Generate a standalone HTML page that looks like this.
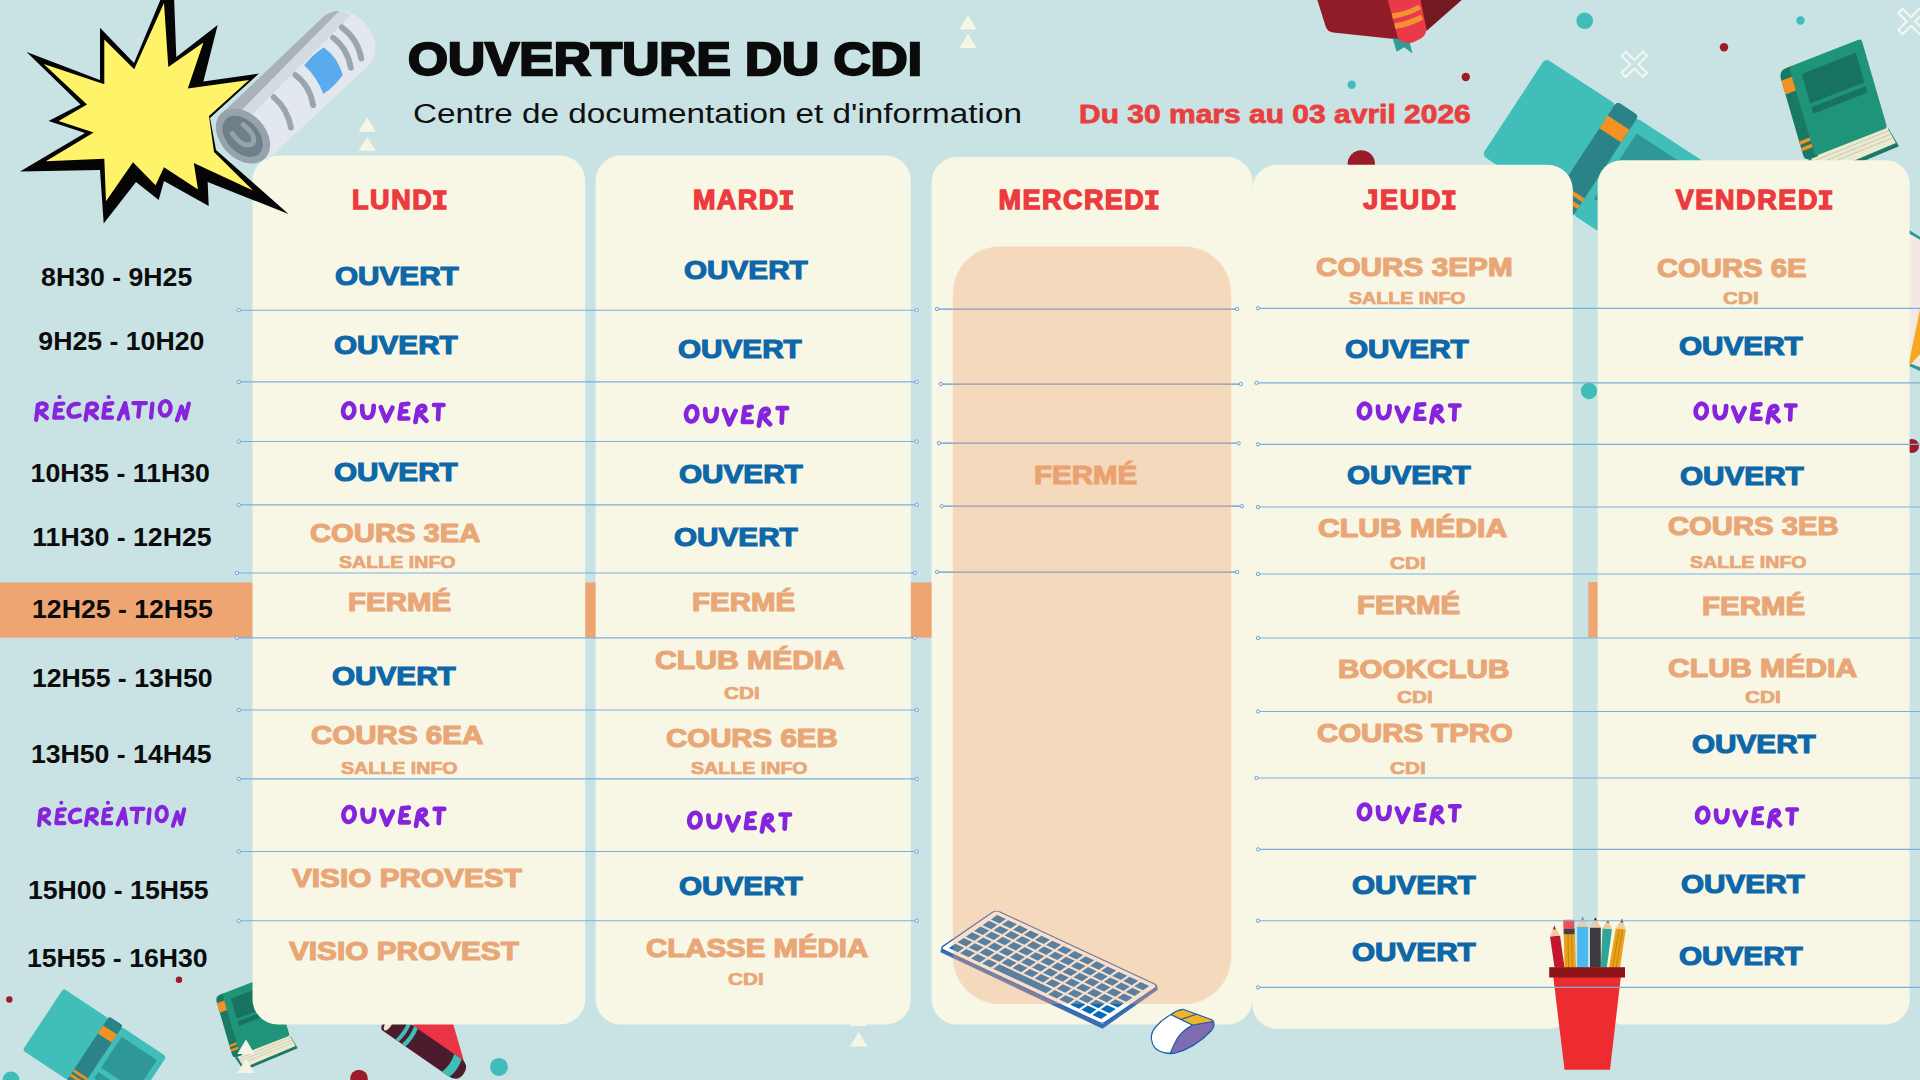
<!DOCTYPE html>
<html lang="fr"><head><meta charset="utf-8"><title>Ouverture du CDI</title>
<style>
html,body{margin:0;padding:0}
body{width:1920px;height:1080px;overflow:hidden;background:#c9e3e5;position:relative;font-family:"Liberation Sans",sans-serif}
.L{position:absolute;left:0;top:0;display:block}
.im{font-family:"Liberation Mono",monospace;margin:0 -0.07em 0 -0.06em}
.t{position:absolute;white-space:nowrap;line-height:1;transform-origin:0 0;font-family:"Liberation Sans",sans-serif}
.title{font-weight:700;color:#0b0b0b;-webkit-text-stroke:0.05em #0b0b0b;}
.sub{font-weight:400;color:#101010;}
.date{font-weight:700;color:#e9403f;-webkit-text-stroke:0.03em #e9403f;}
.time{font-weight:700;color:#0c0c0c;}
.hdr{font-weight:700;color:#ec3a3e;-webkit-text-stroke:0.05em #ec3a3e;}
.blue{font-weight:700;color:#0d67a8;-webkit-text-stroke:0.045em #0d67a8;}
.org{font-weight:700;color:#e9a676;-webkit-text-stroke:0.045em #e9a676;}
.orgs{font-weight:700;color:#e9a676;-webkit-text-stroke:0.04em #e9a676;}
.orgm{font-weight:700;color:#e6a06c;-webkit-text-stroke:0.045em #e6a06c;}
</style></head><body>
<svg class="L" width="1920" height="1080" viewBox="0 0 1920 1080">
<g>
<path d="M1316.7,-2 L1325.5,26 Q1327,31.5 1333,32.6 L1399,39.6 L1389,-2 Z" fill="#8f1c26"/>
<path d="M1419,-2 L1464,-2 L1426.5,31 Z" fill="#741821"/>
<path d="M1392.5,38 L1396.7,51.8 L1404.2,47.3 L1412.5,53.4 L1409.3,41 Z" fill="#2f9e9a"/>
<path d="M1387.3,-2 L1420.3,-2 L1426.2,28 Q1427,35 1420,39 L1414,42 Q1408,44.5 1402,41.5 L1398.2,39.4 Z" fill="#e93a49"/>
<path d="M1392.3,16 Q1406,14.5 1419.8,7" stroke="#f39232" stroke-width="5.4" fill="none"/>
<path d="M1394.8,26 Q1408,24.5 1422,17" stroke="#f39232" stroke-width="5.4" fill="none"/>
</g>
<g transform="translate(1626.2,111) rotate(33.2) scale(1.0)">
<rect x="-96.5" y="0" width="85" height="116" rx="5" fill="#41bdba"/>
<rect x="11.5" y="0" width="85" height="116" rx="5" fill="#41bdba"/>
<rect x="21" y="13" width="66" height="58" fill="#2f9796"/>
<rect x="21" y="79" width="66" height="12" fill="#2f9796"/>
<rect x="-13" y="-3" width="26" height="122" rx="4" fill="#2b8387"/>
<rect x="-13" y="14" width="26" height="15" fill="#f39223"/>
<rect x="-13" y="96" width="26" height="4.2" fill="#f39223"/>
<rect x="-13" y="104.5" width="26" height="4.2" fill="#f39223"/>
</g>
<g transform="matrix(0.9506,-0.3708,0.2856,0.9802,1778.6,71)">
<path d="M3,92 L88,92 L93,112 L10,114 Z" fill="#187a63"/>
<path d="M6,90 L87,90 L91,108 L11,110 Z" fill="#ebe9d2"/>
<path d="M8,95 L88,94 M9,99 L89,98 M10,103 L90,102" stroke="#c9cbb0" stroke-width="1" fill="none"/>
<path d="M0,8 Q0,0 8,0 L14,0 L14,92 L8,92 Q0,92 0,86 Z" fill="#187a63"/>
<rect x="11" y="0" width="76" height="91" rx="3" fill="#1f9478"/>
<rect x="0" y="10" width="11" height="14" fill="#f39223"/>
<rect x="0" y="72" width="11" height="3.4" fill="#f39223"/>
<rect x="0" y="78.5" width="11" height="3.4" fill="#f39223"/>
<rect x="21" y="11" width="57" height="30" fill="#177360"/>
<rect x="21" y="45" width="57" height="6.5" fill="#177360"/>
</g>
<g>
<path d="M1909,230 L1922,238 L1922,372 L1909,366 Z" fill="#2f9796"/>
<path d="M1909,233.5 L1922,241 L1922,368 L1909,363 Z" fill="#f3e9e2"/>
<path d="M1922,300 L1909,362 L1909,366 L1922,352 Z" fill="#f6a623"/>
</g>
<path transform="translate(1634.3,64.3) rotate(45)" d="M-3,-15 H3 V-3 H15 V3 H3 V15 H-3 V3 H-15 V-3 H-3 Z" fill="#cfe0dc" fill-opacity=".55" stroke="#f1faf3" stroke-width="1.9" stroke-linejoin="round"/>
<path transform="translate(1911,21.5) rotate(45)" d="M-3,-15 H3 V-3 H15 V3 H3 V15 H-3 V3 H-15 V-3 H-3 Z" fill="#cfe0dc" fill-opacity=".55" stroke="#f1faf3" stroke-width="1.9" stroke-linejoin="round"/>
<circle cx="1584.7" cy="20.8" r="8.3" fill="#3fbdb8"/>
<circle cx="1800.5" cy="20.5" r="4.2" fill="#3fbdb8"/>
<circle cx="1351.7" cy="84.7" r="4.2" fill="#3fbdb8"/>
<circle cx="1465.8" cy="77" r="4.2" fill="#9c1b28"/>
<circle cx="1724" cy="47.3" r="4.2" fill="#9c1b28"/>
<circle cx="1361.3" cy="164" r="13.7" fill="#9c1b28"/>
<circle cx="1589" cy="391" r="8.2" fill="#3fbdb8"/>
<circle cx="1912" cy="446" r="7" fill="#9c1b28"/>
<polygon points="367.2,117.2 358.6,131.8 375.8,131.8" fill="#f7f6e6"/>
<polygon points="367.2,137.2 358.6,150.8 375.8,150.8" fill="#f7f6e6"/>
<polygon points="968.0,15.0 959.4,29.6 976.6,29.6" fill="#f7f6e6"/>
<polygon points="968.0,33.5 959.4,48.1 976.6,48.1" fill="#f7f6e6"/>
<polygon points="858.7,1011.5 850.1,1026.1 867.4,1026.1" fill="#f7f6e6"/>
<polygon points="858.7,1031.9 850.1,1046.5 867.4,1046.5" fill="#f7f6e6"/>
<g transform="translate(115,1022.5) rotate(33.5) scale(0.64)">
<rect x="-96.5" y="0" width="85" height="116" rx="5" fill="#41bdba"/>
<rect x="11.5" y="0" width="85" height="116" rx="5" fill="#41bdba"/>
<rect x="21" y="13" width="66" height="58" fill="#2f9796"/>
<rect x="21" y="79" width="66" height="12" fill="#2f9796"/>
<rect x="-13" y="-3" width="26" height="122" rx="4" fill="#2b8387"/>
<rect x="-13" y="14" width="26" height="15" fill="#f39223"/>
<rect x="-13" y="96" width="26" height="4.2" fill="#f39223"/>
<rect x="-13" y="104.5" width="26" height="4.2" fill="#f39223"/>
</g>
<g transform="matrix(0.6524,-0.2544,0.1960,0.6727,215.1,996.6)">
<path d="M3,92 L88,92 L93,112 L10,114 Z" fill="#187a63"/>
<path d="M6,90 L87,90 L91,108 L11,110 Z" fill="#ebe9d2"/>
<path d="M8,95 L88,94 M9,99 L89,98 M10,103 L90,102" stroke="#c9cbb0" stroke-width="1" fill="none"/>
<path d="M0,8 Q0,0 8,0 L14,0 L14,92 L8,92 Q0,92 0,86 Z" fill="#187a63"/>
<rect x="11" y="0" width="76" height="91" rx="3" fill="#1f9478"/>
<rect x="0" y="10" width="11" height="14" fill="#f39223"/>
<rect x="0" y="72" width="11" height="3.4" fill="#f39223"/>
<rect x="0" y="78.5" width="11" height="3.4" fill="#f39223"/>
<rect x="21" y="11" width="57" height="30" fill="#177360"/>
<rect x="21" y="45" width="57" height="6.5" fill="#177360"/>
</g>
<g>
<path d="M410,1022 L452.6,1022 L464.5,1063 L440,1052 Z" fill="#ea3344"/>
<g transform="translate(403.3,1031.9) rotate(34.7)">
<path d="M-18,-10.75 L62,-10.75 Q73.5,-10.75 73.5,0 Q73.5,10.75 62,10.75 L-18,10.75 Q-22,10.75 -22,0 Q-22,-10.75 -18,-10.75Z" fill="#4b1c2d"/>
<path d="M-2.2,-10.75 Q0.3,0 -2.2,10.75 L1.8,10.75 Q4.3,0 1.8,-10.75 Z" fill="#3fbdb8"/>
<path d="M5.8,-10.75 Q8.3,0 5.8,10.75 L10.2,10.75 Q12.7,0 10.2,-10.75 Z" fill="#3fbdb8"/>
<path d="M54.5,-10.75 Q58,0 54.5,10.75 L63.5,10.75 Q67,0 63.5,-10.75 Z" fill="#3fbdb8"/>
<ellipse cx="-16.5" cy="2.5" rx="3" ry="6.8" fill="#efe6d6"/>
</g>
</g>
<circle cx="9.3" cy="999.5" r="3.2" fill="#9c1b28"/>
<circle cx="179" cy="979.8" r="3.2" fill="#9c1b28"/>
<circle cx="359" cy="1078.5" r="8.8" fill="#9c1b28"/>
<circle cx="499" cy="1066.9" r="9" fill="#3fbdb8"/>
<circle cx="11" cy="1080" r="8.5" fill="#3fbdb8"/>
<rect x="0" y="582.5" width="932" height="55.2" fill="#eea572"/><rect x="1588.3" y="582" width="10" height="55.5" fill="#eea572"/>
<rect x="252.5" y="155.6" width="332.7" height="868.8" rx="25" fill="#f8f6e5"/>
<rect x="595.6" y="155.6" width="315.2" height="868.8" rx="25" fill="#f8f6e5"/>
<rect x="931.6" y="157.1" width="321.0" height="867.3" rx="25" fill="#f8f6e5"/>
<rect x="1252.2" y="164.8" width="320.6" height="864.2" rx="25" fill="#f8f6e5"/>
<rect x="1597.6" y="160.2" width="312.0" height="864.2" rx="24" fill="#f8f6e5"/>
<polygon points="246.0,1039.5 237.3,1054.1 254.7,1054.1" fill="#f4f3e6"/>
<polygon points="246.0,1058.5 237.3,1073.1 254.7,1073.1" fill="#f4f3e6"/>
<polygon points="162,-4 174,-4 176.3,57 217.7,25 203.4,81.6 259,73.5 210,118 216,150 288.5,214 207.7,182 208.7,206 164,181 158.7,200 136,182 103.7,223.6 100,170 20,171.5 85,133 48.5,121 80.5,104.4 26.6,52 100,80 100,27.7 134,63" fill="#050505"/><polygon points="164,3 168.3,67 203.4,42.6 187.8,88.4 249,80 209,116 214,152 253,190.4 193.8,163 198,189.5 164,167.2 155.5,185.3 133,162.3 106,201.3 104.3,158.7 45.8,161.2 93.7,132.5 58.6,121 87,104.4 43.7,64 104.3,84.2 104.3,39.4 134.2,69.2" fill="#fff36a"/>
<g transform="translate(243,136) rotate(-43.6)">
<path d="M0,-31 L140,-31 Q166,-28 166,2 Q165,31 140,35.5 L0,34 Z" fill="#e3e8ef"/>
<path d="M0,-31 L140,-31 Q150,-30 156,-24 L0,-19 Z" fill="#a7b2ba"/>
<path d="M0,-19 L156,-24 Q160,-19 162,-13 L0,-9 Z" fill="#d3dae1"/>
<path d="M93,-9 Q107,-11 119.5,-8.5 Q123,8 114.5,24.5 Q100,27.5 87,25 Q94.5,8 93,-9 Z" fill="#5aaaee"/>
<path d="M49,-7 Q51,11 40.5,27" stroke="#9aa6ae" stroke-width="5.8" fill="none" stroke-linecap="round"/>
<path d="M80,-8 Q83,10 72,26" stroke="#9aa6ae" stroke-width="5.8" fill="none" stroke-linecap="round"/>
<path d="M133,-9 Q136,9 125,25" stroke="#9aa6ae" stroke-width="5.8" fill="none" stroke-linecap="round"/>
<path d="M146.5,-10.5 Q150,9 139,25.5" stroke="#9aa6ae" stroke-width="5.8" fill="none" stroke-linecap="round"/>
<ellipse cx="0" cy="0" rx="22.5" ry="31.5" fill="#97a3ac"/>
<ellipse cx="-0.5" cy="0" rx="16" ry="24" fill="#6f7f89"/>
<path d="M-6,-9 Q-9,10 2,12 Q10,10 8,-8" stroke="#97a3ac" stroke-width="5" fill="none" stroke-linecap="round"/>
</g>
</svg>
<div class="t orgm" style="left:1034.12px;top:463.11px;font-size:24.93px;transform:scaleX(1.1823)">FERMÉ</div>
<svg class="L" width="1920" height="1080" viewBox="0 0 1920 1080">
<defs>
<g id="ouv" fill="none" stroke="#8523dd" stroke-width="4.7" stroke-linecap="round" stroke-linejoin="round"><ellipse cx="18.3" cy="21" rx="5.6" ry="7.7" transform="rotate(8 18.3 21)"/><path d="M31.8,16.2 C31.6,24 32.8,28.6 37.4,28.4 C42.2,28.2 43.3,22 43.3,15.9"/><path d="M50.4,17.3 L55.7,31.5 L62,17.9"/><path d="M77.9,13.9 L71.1,14.6 L69.1,29.1 L77.9,29.1 M70.1,22 L75.8,21.7"/><path d="M87.3,19.6 L85,32.8 M87.3,19.6 C89,15 95,14.5 94.8,19 C94.6,22 90,23 88,23 L96.1,31.5"/><path d="M103.6,15.2 L113.1,15.2 M108.3,15.2 L107.7,29.8"/></g>
<g id="rec" fill="none" stroke="#8523dd" stroke-width="4.3" stroke-linecap="round" stroke-linejoin="round"><path d="M12.8,19.6 L11.1,35.1 M12.8,19.6 C16,17 22,17.5 21.5,22 C21,25.5 16,26.4 13.7,26.4 L21.9,33.3"/><path d="M38.3,18.2 L31,18.7 L29.2,32.8 L37.8,32.8 M30.5,25.5 L36,25.1"/><circle cx="34.5" cy="11.4" r="2.1" fill="#8523dd" stroke="none"/><path d="M53.8,18.7 C46,17.5 42,24 44,29 C46,33 51,32 54.7,30.5"/><path d="M62.9,19.6 L60.6,35.1 M62.9,19.6 C66,17 72.5,17.5 72,22.5 C71.5,25.8 66,26.4 63.8,26.4 L72,33.3"/><path d="M87.5,17.8 L80.2,18.7 L78.4,32.8 L87.1,32.8 M79.3,25.5 L85.2,25.1"/><circle cx="83.7" cy="11.4" r="2.1" fill="#8523dd" stroke="none"/><path d="M93.9,34.2 L100.3,17.8 L103,33.7 M96.6,27.3 L102.1,27.3"/><path d="M108.5,17.8 L121.2,17.8 M114.9,17.8 L113.5,31.9"/><path d="M127.6,18.2 L126.3,32.8"/><ellipse cx="140.4" cy="23.2" rx="5.4" ry="7.6" transform="rotate(5 140.4 23.2)"/><path d="M152.2,35.6 L156.8,21.4 L160.4,33.7 L164.1,18.2"/></g>
</defs>
<line x1="938.9" y1="309.0" x2="1235.3" y2="309.0" stroke="#6397cd" stroke-width="1.25"/><circle cx="937.1" cy="309.0" r="1.7" fill="#eef5f8" stroke="#6a9fd4" stroke-width="0.95"/><circle cx="1237.1" cy="309.0" r="1.7" fill="#eef5f8" stroke="#6a9fd4" stroke-width="0.95"/>
<line x1="942.6" y1="384.0" x2="1239.0" y2="384.0" stroke="#6397cd" stroke-width="1.25"/><circle cx="940.8" cy="384.0" r="1.7" fill="#eef5f8" stroke="#6a9fd4" stroke-width="0.95"/><circle cx="1240.8" cy="384.0" r="1.7" fill="#eef5f8" stroke="#6a9fd4" stroke-width="0.95"/>
<line x1="940.8" y1="443.2" x2="1236.7" y2="443.2" stroke="#6397cd" stroke-width="1.25"/><circle cx="939.0" cy="443.2" r="1.7" fill="#eef5f8" stroke="#6a9fd4" stroke-width="0.95"/><circle cx="1238.5" cy="443.2" r="1.7" fill="#eef5f8" stroke="#6a9fd4" stroke-width="0.95"/>
<line x1="943.6" y1="506.2" x2="1240.0" y2="506.2" stroke="#6397cd" stroke-width="1.25"/><circle cx="941.8" cy="506.2" r="1.7" fill="#eef5f8" stroke="#6a9fd4" stroke-width="0.95"/><circle cx="1241.8" cy="506.2" r="1.7" fill="#eef5f8" stroke="#6a9fd4" stroke-width="0.95"/>
<line x1="938.9" y1="572.0" x2="1235.3" y2="572.0" stroke="#6397cd" stroke-width="1.25"/><circle cx="937.1" cy="572.0" r="1.7" fill="#eef5f8" stroke="#6a9fd4" stroke-width="0.95"/><circle cx="1237.1" cy="572.0" r="1.7" fill="#eef5f8" stroke="#6a9fd4" stroke-width="0.95"/>
<g><path d="M941,948.8 L1102.498,1024.096 L1157.298,986.298 L1157.798,989.798 L1102.498,1028.696 L940.5,952.3 Z" fill="#3a6db4"/>
<g transform="matrix(11.607,5.414,9.3,-6.383,940,948.3)">
<rect x="0" y="0" width="14" height="6" rx="0.35" fill="#ffffff" stroke="#2a62a8" stroke-width="0.12"/>
<g fill="#066bb6"><rect x="0.450" y="0.410" width="0.750" height="0.680"/><rect x="1.400" y="0.410" width="0.750" height="0.680"/><rect x="2.350" y="0.410" width="0.750" height="0.680"/><rect x="3.300" y="0.410" width="0.750" height="0.680"/><rect x="4.250" y="0.410" width="4.550" height="0.680"/><rect x="9.000" y="0.410" width="0.750" height="0.680"/><rect x="9.950" y="0.410" width="0.750" height="0.680"/><rect x="10.900" y="0.410" width="0.750" height="0.680"/><rect x="11.850" y="0.410" width="0.750" height="0.680"/><rect x="12.800" y="0.410" width="0.750" height="0.680"/><rect x="0.450" y="1.310" width="0.750" height="0.680"/><rect x="1.400" y="1.310" width="0.750" height="0.680"/><rect x="2.350" y="1.310" width="0.750" height="0.680"/><rect x="3.300" y="1.310" width="0.750" height="0.680"/><rect x="4.250" y="1.310" width="0.750" height="0.680"/><rect x="5.200" y="1.310" width="0.750" height="0.680"/><rect x="6.150" y="1.310" width="0.750" height="0.680"/><rect x="7.100" y="1.310" width="0.750" height="0.680"/><rect x="8.050" y="1.310" width="0.750" height="0.680"/><rect x="9.000" y="1.310" width="0.750" height="0.680"/><rect x="9.950" y="1.310" width="0.750" height="0.680"/><rect x="10.900" y="1.310" width="0.750" height="0.680"/><rect x="11.850" y="1.310" width="0.750" height="0.680"/><rect x="12.800" y="1.310" width="0.750" height="0.680"/><rect x="0.450" y="2.210" width="0.750" height="0.680"/><rect x="1.400" y="2.210" width="0.750" height="0.680"/><rect x="2.350" y="2.210" width="0.750" height="0.680"/><rect x="3.300" y="2.210" width="0.750" height="0.680"/><rect x="4.250" y="2.210" width="0.750" height="0.680"/><rect x="5.200" y="2.210" width="0.750" height="0.680"/><rect x="6.150" y="2.210" width="0.750" height="0.680"/><rect x="7.100" y="2.210" width="0.750" height="0.680"/><rect x="8.050" y="2.210" width="0.750" height="0.680"/><rect x="9.000" y="2.210" width="0.750" height="0.680"/><rect x="9.950" y="2.210" width="0.750" height="0.680"/><rect x="10.900" y="2.210" width="0.750" height="0.680"/><rect x="11.850" y="2.210" width="0.750" height="0.680"/><rect x="12.800" y="2.210" width="0.750" height="0.680"/><rect x="0.450" y="3.110" width="0.750" height="0.680"/><rect x="1.400" y="3.110" width="0.750" height="0.680"/><rect x="2.350" y="3.110" width="0.750" height="0.680"/><rect x="3.300" y="3.110" width="0.750" height="0.680"/><rect x="4.250" y="3.110" width="0.750" height="0.680"/><rect x="5.200" y="3.110" width="0.750" height="0.680"/><rect x="6.150" y="3.110" width="0.750" height="0.680"/><rect x="7.100" y="3.110" width="0.750" height="0.680"/><rect x="8.050" y="3.110" width="0.750" height="0.680"/><rect x="9.000" y="3.110" width="0.750" height="0.680"/><rect x="9.950" y="3.110" width="0.750" height="0.680"/><rect x="10.900" y="3.110" width="0.750" height="0.680"/><rect x="11.850" y="3.110" width="0.750" height="0.680"/><rect x="12.800" y="3.110" width="0.750" height="0.680"/><rect x="0.450" y="4.010" width="0.750" height="0.680"/><rect x="1.400" y="4.010" width="0.750" height="0.680"/><rect x="2.350" y="4.010" width="0.750" height="0.680"/><rect x="3.300" y="4.010" width="0.750" height="0.680"/><rect x="4.250" y="4.010" width="0.750" height="0.680"/><rect x="5.200" y="4.010" width="0.750" height="0.680"/><rect x="6.150" y="4.010" width="0.750" height="0.680"/><rect x="7.100" y="4.010" width="0.750" height="0.680"/><rect x="8.050" y="4.010" width="0.750" height="0.680"/><rect x="9.000" y="4.010" width="0.750" height="0.680"/><rect x="9.950" y="4.010" width="0.750" height="0.680"/><rect x="10.900" y="4.010" width="0.750" height="0.680"/><rect x="11.850" y="4.010" width="0.750" height="0.680"/><rect x="12.800" y="4.010" width="0.750" height="0.680"/><rect x="0.450" y="4.910" width="0.750" height="0.680"/><rect x="1.400" y="4.910" width="0.750" height="0.680"/><rect x="2.350" y="4.910" width="0.750" height="0.680"/><rect x="3.300" y="4.910" width="0.750" height="0.680"/><rect x="4.250" y="4.910" width="0.750" height="0.680"/><rect x="5.200" y="4.910" width="0.750" height="0.680"/><rect x="6.150" y="4.910" width="0.750" height="0.680"/><rect x="7.100" y="4.910" width="0.750" height="0.680"/><rect x="8.050" y="4.910" width="0.750" height="0.680"/><rect x="9.000" y="4.910" width="0.750" height="0.680"/><rect x="9.950" y="4.910" width="0.750" height="0.680"/><rect x="10.900" y="4.910" width="0.750" height="0.680"/><rect x="11.850" y="4.910" width="0.750" height="0.680"/><rect x="12.800" y="4.910" width="0.750" height="0.680"/></g>
</g></g>
<rect x="952.9" y="246.5" width="278.2" height="757.5" rx="47" fill="rgb(237,165,120)" fill-opacity=".36"/>
<g stroke="#1f5fa8" stroke-width="1.2" stroke-linejoin="round">
<path d="M1192.5,1025 L1213.5,1021.5 Q1215,1026 1211.5,1030.5 Q1195,1048 1174,1053.5 Q1165,1054.5 1158,1049 Z" fill="#7d6cb2"/>
<path d="M1151.5,1039.5 Q1150.5,1033 1156,1026.5 Q1162,1019.5 1171,1014.5 L1192.5,1025 Q1183,1030 1177.5,1038 Q1173,1046 1170.5,1052.8 Q1162,1054 1155,1048 Q1152,1044.5 1151.5,1039.5 Z" fill="#ffffff"/>
<path d="M1171,1014.5 Q1177,1010 1183,1009.3 L1211,1019.5 Q1213,1020.5 1213.5,1021.5 L1192.5,1025 Z" fill="#f0b52b"/>
<path d="M1181,1019.4 L1196.5,1014.2" fill="none"/>
</g>
<g>
<polygon points="1554.5,967.5 1564.5,967.5 1560,935.5 1550,936.5" fill="#c1192b"/>
<polygon points="1550,936.5 1560,935.5 1554.3,925.5" fill="#f2c9a0"/>
<polygon points="1553,929.5 1555.8,929.2 1554.3,925.5" fill="#a51424"/>
<polygon points="1564.5,967.5 1576,967.5 1574.7,934 1563.8,934" fill="#e9a21a"/>
<path d="M1568,934 L1568.6,967.5 M1571.6,934 L1572.4,967.5" stroke="#c98710" stroke-width="1.2"/>
<rect x="1563.6" y="928.3" width="11" height="5.9" fill="#4b3d3d"/>
<rect x="1563.3" y="919.8" width="11" height="8.6" rx="1.5" fill="#e9515c"/>
<rect x="1577.2" y="926.7" width="10.8" height="41" fill="#4db8ef"/>
<polygon points="1577.2,926.7 1588,926.7 1582.6,916.5" fill="#f2c9a0"/>
<polygon points="1581,919.8 1584.2,919.8 1582.6,916.5" fill="#3a9fe0"/>
<rect x="1590" y="927.5" width="10.8" height="40" fill="#3f3a41"/>
<polygon points="1590,927.5 1600.8,927.5 1595.4,917.3" fill="#f2c9a0"/>
<polygon points="1593.8,920.5 1597,920.5 1595.4,917.3" fill="#2e2a30"/>
<polygon points="1600.8,967.5 1606.8,967.5 1612,929.3 1602.5,928.3" fill="#2fa597"/>
<polygon points="1602.5,928.3 1612,929.3 1608,919.5" fill="#f2c9a0"/>
<polygon points="1606.4,922.8 1609.3,923 1608,919.5" fill="#4a7f86"/>
<polygon points="1609,967.5 1620,967.5 1625.8,929.5 1615.8,928.3" fill="#e9a21a"/>
<path d="M1612.7,967.5 L1619.2,928.8 M1616.2,967.5 L1622.5,929.2" stroke="#c98710" stroke-width="1.2"/>
<polygon points="1615.8,928.3 1625.8,929.5 1622,918.5" fill="#f2c9a0"/>
<polygon points="1620.5,922.3 1623.4,922.6 1622,918.5" fill="#4a4040"/>
<polygon points="1553.3,977 1620.8,977 1610,1069.7 1564.5,1069.7" fill="#ee2b2e"/>
<rect x="1549.2" y="967.2" width="75.8" height="10.3" fill="#8b1418"/>
</g>
<line x1="240.6" y1="310.2" x2="914.9" y2="310.2" stroke="#79afdf" stroke-width="1.15"/><circle cx="238.8" cy="310.2" r="1.7" fill="#eef5f8" stroke="#6a9fd4" stroke-width="0.95"/><circle cx="916.7" cy="310.2" r="1.7" fill="#eef5f8" stroke="#6a9fd4" stroke-width="0.95"/>
<line x1="240.6" y1="381.9" x2="914.9" y2="381.9" stroke="#79afdf" stroke-width="1.15"/><circle cx="238.8" cy="381.9" r="1.7" fill="#eef5f8" stroke="#6a9fd4" stroke-width="0.95"/><circle cx="916.7" cy="381.9" r="1.7" fill="#eef5f8" stroke="#6a9fd4" stroke-width="0.95"/>
<line x1="240.6" y1="441.5" x2="914.9" y2="441.5" stroke="#79afdf" stroke-width="1.15"/><circle cx="238.8" cy="441.5" r="1.7" fill="#eef5f8" stroke="#6a9fd4" stroke-width="0.95"/><circle cx="916.7" cy="441.5" r="1.7" fill="#eef5f8" stroke="#6a9fd4" stroke-width="0.95"/>
<line x1="240.6" y1="504.8" x2="914.9" y2="504.8" stroke="#79afdf" stroke-width="1.15"/><circle cx="238.8" cy="504.8" r="1.7" fill="#eef5f8" stroke="#6a9fd4" stroke-width="0.95"/><circle cx="916.7" cy="504.8" r="1.7" fill="#eef5f8" stroke="#6a9fd4" stroke-width="0.95"/>
<line x1="238.8" y1="573.0" x2="913.0" y2="573.0" stroke="#79afdf" stroke-width="1.15"/><circle cx="237.0" cy="573.0" r="1.7" fill="#eef5f8" stroke="#6a9fd4" stroke-width="0.95"/><circle cx="914.8" cy="573.0" r="1.7" fill="#eef5f8" stroke="#6a9fd4" stroke-width="0.95"/>
<line x1="238.8" y1="637.8" x2="913.0" y2="637.8" stroke="#79afdf" stroke-width="1.15"/><circle cx="237.0" cy="637.8" r="1.7" fill="#eef5f8" stroke="#6a9fd4" stroke-width="0.95"/><circle cx="914.8" cy="637.8" r="1.7" fill="#eef5f8" stroke="#6a9fd4" stroke-width="0.95"/>
<line x1="240.6" y1="710.0" x2="914.9" y2="710.0" stroke="#79afdf" stroke-width="1.15"/><circle cx="238.8" cy="710.0" r="1.7" fill="#eef5f8" stroke="#6a9fd4" stroke-width="0.95"/><circle cx="916.7" cy="710.0" r="1.7" fill="#eef5f8" stroke="#6a9fd4" stroke-width="0.95"/>
<line x1="240.6" y1="778.9" x2="914.9" y2="778.9" stroke="#79afdf" stroke-width="1.15"/><circle cx="238.8" cy="778.9" r="1.7" fill="#eef5f8" stroke="#6a9fd4" stroke-width="0.95"/><circle cx="916.7" cy="778.9" r="1.7" fill="#eef5f8" stroke="#6a9fd4" stroke-width="0.95"/>
<line x1="240.6" y1="851.5" x2="914.9" y2="851.5" stroke="#79afdf" stroke-width="1.15"/><circle cx="238.8" cy="851.5" r="1.7" fill="#eef5f8" stroke="#6a9fd4" stroke-width="0.95"/><circle cx="916.7" cy="851.5" r="1.7" fill="#eef5f8" stroke="#6a9fd4" stroke-width="0.95"/>
<line x1="240.6" y1="920.7" x2="914.9" y2="920.7" stroke="#79afdf" stroke-width="1.15"/><circle cx="238.8" cy="920.7" r="1.7" fill="#eef5f8" stroke="#6a9fd4" stroke-width="0.95"/><circle cx="916.7" cy="920.7" r="1.7" fill="#eef5f8" stroke="#6a9fd4" stroke-width="0.95"/>
<line x1="1259.8" y1="308.3" x2="1925.0" y2="308.3" stroke="#79afdf" stroke-width="1.15"/><circle cx="1258.0" cy="308.3" r="1.7" fill="#eef5f8" stroke="#6a9fd4" stroke-width="0.95"/>
<line x1="1258.4" y1="382.9" x2="1925.0" y2="382.9" stroke="#79afdf" stroke-width="1.15"/><circle cx="1256.6" cy="382.9" r="1.7" fill="#eef5f8" stroke="#6a9fd4" stroke-width="0.95"/>
<line x1="1259.8" y1="444.4" x2="1925.0" y2="444.4" stroke="#79afdf" stroke-width="1.15"/><circle cx="1258.0" cy="444.4" r="1.7" fill="#eef5f8" stroke="#6a9fd4" stroke-width="0.95"/>
<line x1="1259.8" y1="507.0" x2="1925.0" y2="507.0" stroke="#79afdf" stroke-width="1.15"/><circle cx="1258.0" cy="507.0" r="1.7" fill="#eef5f8" stroke="#6a9fd4" stroke-width="0.95"/>
<line x1="1259.8" y1="574.0" x2="1925.0" y2="574.0" stroke="#79afdf" stroke-width="1.15"/><circle cx="1258.0" cy="574.0" r="1.7" fill="#eef5f8" stroke="#6a9fd4" stroke-width="0.95"/>
<line x1="1259.8" y1="638.0" x2="1925.0" y2="638.0" stroke="#79afdf" stroke-width="1.15"/><circle cx="1258.0" cy="638.0" r="1.7" fill="#eef5f8" stroke="#6a9fd4" stroke-width="0.95"/>
<line x1="1259.8" y1="711.5" x2="1925.0" y2="711.5" stroke="#79afdf" stroke-width="1.15"/><circle cx="1258.0" cy="711.5" r="1.7" fill="#eef5f8" stroke="#6a9fd4" stroke-width="0.95"/>
<line x1="1258.4" y1="778.0" x2="1925.0" y2="778.0" stroke="#79afdf" stroke-width="1.15"/><circle cx="1256.6" cy="778.0" r="1.7" fill="#eef5f8" stroke="#6a9fd4" stroke-width="0.95"/>
<line x1="1259.8" y1="849.4" x2="1925.0" y2="849.4" stroke="#79afdf" stroke-width="1.15"/><circle cx="1258.0" cy="849.4" r="1.7" fill="#eef5f8" stroke="#6a9fd4" stroke-width="0.95"/>
<line x1="1259.8" y1="920.7" x2="1925.0" y2="920.7" stroke="#79afdf" stroke-width="1.15"/><circle cx="1258.0" cy="920.7" r="1.7" fill="#eef5f8" stroke="#6a9fd4" stroke-width="0.95"/>
<line x1="1259.8" y1="987.4" x2="1925.0" y2="987.4" stroke="#79afdf" stroke-width="1.15"/><circle cx="1258.0" cy="987.4" r="1.7" fill="#eef5f8" stroke="#6a9fd4" stroke-width="0.95"/>
<use href="#ouv" transform="matrix(1.0000,0,0,0.9667,330.40,390.37)"/>
<use href="#ouv" transform="matrix(1.0038,0,0,0.9708,330.66,794.12)"/>
<use href="#ouv" transform="matrix(1.0076,0,0,0.9917,673.22,393.09)"/>
<use href="#ouv" transform="matrix(1.0038,0,0,0.9708,676.56,799.72)"/>
<use href="#ouv" transform="matrix(1.0029,0,0,0.9625,1346.17,390.81)"/>
<use href="#ouv" transform="matrix(1.0029,0,0,0.9667,1346.17,791.57)"/>
<use href="#ouv" transform="matrix(0.9943,0,0,0.9625,1683.06,390.81)"/>
<use href="#ouv" transform="matrix(0.9943,0,0,0.9625,1684.46,794.91)"/>
<use href="#rec" transform="matrix(0.9975,0,0,0.9680,25.12,385.89)"/>
<use href="#rec" transform="matrix(0.9484,0,0,0.9502,28.56,791.96)"/>
</svg>
<div class="t title" style="left:408.37px;top:35.84px;font-size:46.85px;transform:scaleX(1.0971)">OUVERTURE DU CDI</div>
<div class="t sub" style="left:413.34px;top:100.42px;font-size:27.39px;transform:scaleX(1.2146)">Centre de documentation et d'information</div>
<div class="t date" style="left:1079.30px;top:100.83px;font-size:26.48px;transform:scaleX(1.1330)">Du 30 mars au 03 avril 2026</div>
<div class="t time" style="left:41.09px;top:264.38px;font-size:26.67px;transform:scaleX(1.0000)">8H30 - 9H25</div>
<div class="t time" style="left:38.36px;top:328.48px;font-size:26.67px;transform:scaleX(1.0000)">9H25 - 10H20</div>
<div class="t time" style="left:30.62px;top:460.13px;font-size:26.67px;transform:scaleX(1.0000)">10H35 - 11H30</div>
<div class="t time" style="left:32.26px;top:524.23px;font-size:26.67px;transform:scaleX(1.0000)">11H30 - 12H25</div>
<div class="t time" style="left:31.99px;top:596.38px;font-size:26.67px;transform:scaleX(1.0000)">12H25 - 12H55</div>
<div class="t time" style="left:31.92px;top:665.43px;font-size:26.67px;transform:scaleX(1.0000)">12H55 - 13H50</div>
<div class="t time" style="left:30.89px;top:741.33px;font-size:26.67px;transform:scaleX(1.0000)">13H50 - 14H45</div>
<div class="t time" style="left:27.89px;top:877.28px;font-size:26.67px;transform:scaleX(1.0000)">15H00 - 15H55</div>
<div class="t time" style="left:26.92px;top:945.43px;font-size:26.67px;transform:scaleX(1.0000)">15H55 - 16H30</div>
<div class="t hdr" style="left:351.92px;top:186.52px;font-size:26.99px;letter-spacing:1.634px;transform:scaleX(1.0000)">LUND<span class="im">I</span></div>
<div class="t hdr" style="left:692.92px;top:186.52px;font-size:26.99px;letter-spacing:1.474px;transform:scaleX(1.0000)">MARD<span class="im">I</span></div>
<div class="t hdr" style="left:998.52px;top:186.62px;font-size:26.99px;letter-spacing:1.482px;transform:scaleX(1.0000)">MERCRED<span class="im">I</span></div>
<div class="t hdr" style="left:1363.27px;top:186.82px;font-size:26.99px;letter-spacing:1.763px;transform:scaleX(1.0000)">JEUD<span class="im">I</span></div>
<div class="t hdr" style="left:1675.71px;top:187.37px;font-size:26.99px;letter-spacing:1.629px;transform:scaleX(1.0000)">VENDRED<span class="im">I</span></div>
<div class="t blue" style="left:334.71px;top:262.96px;font-size:26.03px;transform:scaleX(1.1415)">OUVERT</div>
<div class="t blue" style="left:333.76px;top:332.21px;font-size:26.03px;transform:scaleX(1.1415)">OUVERT</div>
<div class="t blue" style="left:333.76px;top:459.21px;font-size:26.03px;transform:scaleX(1.1415)">OUVERT</div>
<div class="t org" style="left:310.42px;top:520.73px;font-size:25.48px;transform:scaleX(1.1464)">COURS 3EA</div>
<div class="t orgs" style="left:339.25px;top:553.56px;font-size:17.40px;transform:scaleX(1.1282)">SALLE INFO</div>
<div class="t org" style="left:347.95px;top:589.93px;font-size:25.48px;transform:scaleX(1.1575)">FERMÉ</div>
<div class="t blue" style="left:331.91px;top:663.26px;font-size:26.03px;transform:scaleX(1.1415)">OUVERT</div>
<div class="t org" style="left:310.91px;top:722.63px;font-size:25.48px;transform:scaleX(1.1592)">COURS 6EA</div>
<div class="t orgs" style="left:341.05px;top:760.41px;font-size:17.40px;transform:scaleX(1.1282)">SALLE INFO</div>
<div class="t org" style="left:291.80px;top:866.33px;font-size:25.48px;transform:scaleX(1.1683)">VISIO PROVEST</div>
<div class="t org" style="left:288.70px;top:939.33px;font-size:25.48px;transform:scaleX(1.1683)">VISIO PROVEST</div>
<div class="t blue" style="left:683.71px;top:256.56px;font-size:26.03px;transform:scaleX(1.1415)">OUVERT</div>
<div class="t blue" style="left:678.36px;top:336.26px;font-size:26.03px;transform:scaleX(1.1415)">OUVERT</div>
<div class="t blue" style="left:679.06px;top:461.21px;font-size:26.03px;transform:scaleX(1.1415)">OUVERT</div>
<div class="t blue" style="left:674.26px;top:524.06px;font-size:26.03px;transform:scaleX(1.1415)">OUVERT</div>
<div class="t org" style="left:692.00px;top:589.93px;font-size:25.48px;transform:scaleX(1.1575)">FERMÉ</div>
<div class="t org" style="left:654.60px;top:648.43px;font-size:25.48px;transform:scaleX(1.1837)">CLUB MÉDIA</div>
<div class="t orgs" style="left:723.64px;top:684.71px;font-size:17.40px;transform:scaleX(1.1912)">CDI</div>
<div class="t org" style="left:666.41px;top:725.53px;font-size:25.48px;transform:scaleX(1.1551)">COURS 6EB</div>
<div class="t orgs" style="left:690.80px;top:760.41px;font-size:17.40px;transform:scaleX(1.1282)">SALLE INFO</div>
<div class="t blue" style="left:679.06px;top:873.21px;font-size:26.03px;transform:scaleX(1.1415)">OUVERT</div>
<div class="t org" style="left:646.11px;top:936.33px;font-size:25.48px;transform:scaleX(1.1545)">CLASSE MÉDIA</div>
<div class="t orgs" style="left:728.49px;top:971.01px;font-size:17.40px;transform:scaleX(1.1912)">CDI</div>
<div class="t org" style="left:1316.20px;top:254.68px;font-size:25.48px;transform:scaleX(1.1678)">COURS 3EPM</div>
<div class="t orgs" style="left:1349.10px;top:289.61px;font-size:17.40px;transform:scaleX(1.1282)">SALLE INFO</div>
<div class="t blue" style="left:1345.36px;top:335.86px;font-size:26.03px;transform:scaleX(1.1415)">OUVERT</div>
<div class="t blue" style="left:1347.46px;top:461.71px;font-size:26.03px;transform:scaleX(1.1415)">OUVERT</div>
<div class="t org" style="left:1317.75px;top:515.73px;font-size:25.48px;transform:scaleX(1.1837)">CLUB MÉDIA</div>
<div class="t orgs" style="left:1389.69px;top:555.16px;font-size:17.40px;transform:scaleX(1.1912)">CDI</div>
<div class="t org" style="left:1356.55px;top:592.78px;font-size:25.48px;transform:scaleX(1.1575)">FERMÉ</div>
<div class="t org" style="left:1338.21px;top:656.63px;font-size:25.48px;transform:scaleX(1.1650)">BOOKCLUB</div>
<div class="t orgs" style="left:1397.09px;top:689.46px;font-size:17.40px;transform:scaleX(1.1912)">CDI</div>
<div class="t org" style="left:1316.61px;top:721.18px;font-size:25.48px;transform:scaleX(1.1531)">COURS TPRO</div>
<div class="t orgs" style="left:1389.69px;top:759.61px;font-size:17.40px;transform:scaleX(1.1912)">CDI</div>
<div class="t blue" style="left:1352.31px;top:872.31px;font-size:26.03px;transform:scaleX(1.1415)">OUVERT</div>
<div class="t blue" style="left:1352.31px;top:938.51px;font-size:26.03px;transform:scaleX(1.1415)">OUVERT</div>
<div class="t org" style="left:1657.21px;top:256.33px;font-size:25.48px;transform:scaleX(1.1481)">COURS 6E</div>
<div class="t orgs" style="left:1723.24px;top:290.26px;font-size:17.40px;transform:scaleX(1.1912)">CDI</div>
<div class="t blue" style="left:1679.16px;top:332.96px;font-size:26.03px;transform:scaleX(1.1415)">OUVERT</div>
<div class="t blue" style="left:1680.36px;top:462.61px;font-size:26.03px;transform:scaleX(1.1415)">OUVERT</div>
<div class="t org" style="left:1668.31px;top:514.13px;font-size:25.48px;transform:scaleX(1.1483)">COURS 3EB</div>
<div class="t orgs" style="left:1690.30px;top:554.16px;font-size:17.40px;transform:scaleX(1.1282)">SALLE INFO</div>
<div class="t org" style="left:1702.15px;top:593.58px;font-size:25.48px;transform:scaleX(1.1575)">FERMÉ</div>
<div class="t org" style="left:1667.90px;top:656.43px;font-size:25.48px;transform:scaleX(1.1837)">CLUB MÉDIA</div>
<div class="t orgs" style="left:1744.99px;top:689.46px;font-size:17.40px;transform:scaleX(1.1912)">CDI</div>
<div class="t blue" style="left:1691.86px;top:731.11px;font-size:26.03px;transform:scaleX(1.1415)">OUVERT</div>
<div class="t blue" style="left:1681.31px;top:871.26px;font-size:26.03px;transform:scaleX(1.1415)">OUVERT</div>
<div class="t blue" style="left:1679.16px;top:942.61px;font-size:26.03px;transform:scaleX(1.1415)">OUVERT</div>
</body></html>
